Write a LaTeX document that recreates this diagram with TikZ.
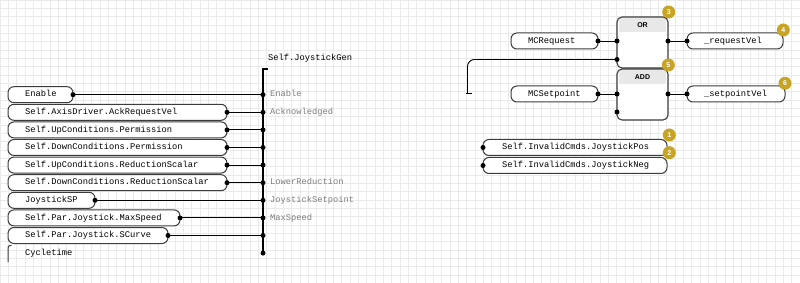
\documentclass[tikz,border=0pt]{standalone}
\usepackage{fontspec}
\setmainfont{Liberation Sans}
\setmonofont{Liberation Mono}
\definecolor{gridgray}{RGB}{234,234,234}
\definecolor{boxedge}{RGB}{60,60,60}
\definecolor{headgray}{RGB}{232,232,232}
\definecolor{pingray}{RGB}{125,125,125}
\definecolor{badgegold}{RGB}{200,164,36}
\begin{document}
\begin{tikzpicture}[x=1pt,y=-1pt,
  every node/.style={inner sep=0pt, outer sep=0pt},
  mono/.style={font=\ttfamily\fontsize{8.75}{10}\selectfont, text height=6.2pt, text depth=1.8pt},
  vbox/.style={mono, draw=boxedge, line width=1pt, rounded corners=6pt, fill=white,
    minimum height=16pt, anchor=west, align=left, inner xsep=17pt, text width=#1},
  pin/.style={mono, text=pingray, anchor=west},
  dot/.style={circle, fill=black, minimum size=5pt},
  wire/.style={draw=black, line width=0.9pt},
  busline/.style={draw=black, line width=1.2pt},
  blockbody/.style={fill=white, minimum width=51pt, minimum height=51pt},
  blockline/.style={draw=boxedge, line width=1.1pt, rounded corners=5pt},
  blockhead/.style={fill=headgray, minimum width=47pt, minimum height=14pt,
    font=\bfseries\fontsize{7}{8}\selectfont},
  badge/.style={circle, fill=badgegold, minimum size=13pt, text=white,
    font=\bfseries\fontsize{7}{8}\selectfont}
]
\useasboundingbox (0,0) rectangle (800,283);
\fill[white] (0,0) rectangle (800,283);

% background grid
\foreach \i in {0,...,96} \draw[gridgray, line width=0.5pt] (\i*8.333,0) -- (\i*8.333,283);
\foreach \j in {0,...,34} \draw[gridgray, line width=0.5pt] (0,\j*8.333) -- (800,\j*8.333);

% ---------- Self.JoystickGen and its inputs ----------
\node[mono, anchor=west] (title) at (268,58) {Self.JoystickGen};

\node[vbox=31pt]  (inA) at (8,94.7)  {Enable};
\node[vbox=185pt] (inB) at (8,112.3) {Self.AxisDriver.AckRequestVel};
\node[vbox=185pt] (inC) at (8,129.9) {Self.UpConditions.Permission};
\node[vbox=185pt] (inD) at (8,147.5) {Self.DownConditions.Permission};
\node[vbox=185pt] (inE) at (8,165.1) {Self.UpConditions.ReductionScalar};
\node[vbox=185pt] (inF) at (8,182.7) {Self.DownConditions.ReductionScalar};
\node[vbox=53pt]  (inG) at (8,200.3) {JoystickSP};
\node[vbox=138pt] (inH) at (8,217.9) {Self.Par.Joystick.MaxSpeed};
\node[vbox=126pt] (inI) at (8,235.5) {Self.Par.Joystick.SCurve};
\node[mono, anchor=west] (inJ) at (25,253.1) {Cycletime};
\draw[draw=boxedge, line width=1pt] (8,262) -- (8,249) .. controls (8,246) .. (11.5,245.3);

% bus
\coordinate (bustop) at (263,69);
\foreach \n/\y in {A/94.7,B/112.3,C/129.9,D/147.5,E/165.1,F/182.7,G/200.3,H/217.9,I/235.5,J/253.1}
  \node[dot] (bus\n) at (263,\y) {};
\draw[busline] (bustop) -- (busJ.center);
\draw[busline] ([xshift=-1pt]bustop) -- ++(6,0);

% pins on the bus
\node[pin] (pinA) at (270,94.7)  {Enable};
\node[pin] (pinB) at (270,112.3) {Acknowledged};
\node[pin] (pinF) at (270,182.7) {LowerReduction};
\node[pin] (pinG) at (270,200.3) {JoystickSetpoint};
\node[pin] (pinH) at (270,217.9) {MaxSpeed};

% wires from inputs to bus
\foreach \n in {A,B,C,D,E,F,G,H,I} {
  \node[dot] (out\n) at (in\n.east) {};
  \draw[wire] (out\n.center) -- (bus\n.center);
}

% ---------- OR / ADD blocks ----------
\node[blockbody] (orblk)  at (642.5,42.5) {};
\node[blockbody] (addblk) at (642.5,94.5) {};
\node[blockhead] (orhd)  at (642.5,25)  {OR};
\node[blockhead] (addhd) at (642.5,77)  {ADD};
\draw[blockline] (orblk.north west) rectangle (orblk.south east);
\draw[blockline] (addblk.north west) rectangle (addblk.south east);

% OR inputs / output
\node[vbox=53pt] (mcreq) at (511,41) {MCRequest};
\node[dot] (mcreqo) at (mcreq.east) {};
\node[dot] (orin1) at (617,41) {};
\node[dot] (orin2) at (617,59.5) {};
\node[dot] (orout) at (668,41) {};
\draw[wire] (mcreqo.center) -- (orin1.center);
\coordinate (loose) at (467.5,93.5);
\draw[wire, rounded corners=7pt] (orin2.center) -| (loose);
\draw[wire] ([xshift=-1.5pt]loose) -- ++(6,0);

\node[vbox=62pt] (reqv) at (687,41) {\_requestVel};
\node[dot] (reqvi) at (reqv.west) {};
\draw[wire] (orout.center) -- (reqvi.center);

% ADD inputs / output
\node[vbox=53pt] (mcset) at (511,94) {MCSetpoint};
\node[dot] (mcseto) at (mcset.east) {};
\node[dot] (addin1) at (617,94) {};
\node[dot] (addin2) at (617,112) {};
\node[dot] (addout) at (668,94) {};
\draw[wire] (mcseto.center) -- (addin1.center);

\node[vbox=64pt] (setv) at (687,94) {\_setpointVel};
\node[dot] (setvi) at (setv.west) {};
\draw[wire] (addout.center) -- (setvi.center);

% ---------- invalid command flags ----------
\node[vbox=146pt, inner xsep=19pt] (jpos) at (483,147.5) {Self.InvalidCmds.JoystickPos};
\node[vbox=146pt, inner xsep=19pt] (jneg) at (483,165.5) {Self.InvalidCmds.JoystickNeg};
\node[dot] (jposi) at (jpos.west) {};
\node[dot] (jnegi) at (jneg.west) {};

% ---------- execution order badges ----------
\node[badge] (b1) at (669.3,135)   {1};
\node[badge] (b2) at (669.3,152.7) {2};
\node[badge] (b3) at (668.7,12)    {3};
\node[badge] (b4) at (783.3,30)    {4};
\node[badge] (b5) at (668.3,65)    {5};
\node[badge] (b6) at (785,83.3)    {6};
\end{tikzpicture}
\end{document}
